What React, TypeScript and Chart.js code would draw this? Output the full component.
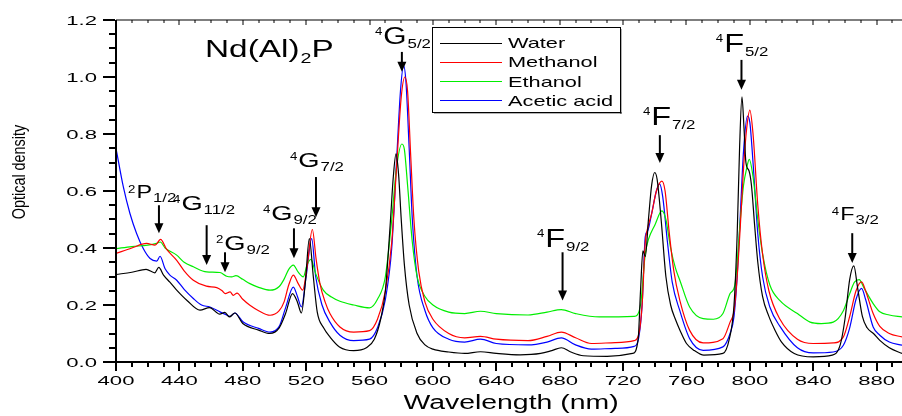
import { useEffect, useRef } from 'react';
import { Chart, registerables } from 'chart.js';

Chart.register(...registerables);

// ---------------- data ----------------
const seriesLabels = ['Water', 'Methanol', 'Ethanol', 'Acetic acid'];
const seriesColors = ['#000000', '#ff0000', '#00ee00', '#0000ff'];

const waterNm = [400, 410, 419, 424.5, 427, 430, 434, 438, 445, 453, 459, 465.5, 468.7, 471.5, 475, 480, 490, 497, 503, 507, 511.4, 514.5, 517, 519.5, 522, 524.5, 527, 531, 535, 541, 550, 558, 563, 567, 570, 573, 575, 576.7, 578.3, 580, 582, 585, 590, 595, 600, 610, 620, 630, 640, 655, 668, 675, 681, 687, 695, 710, 726, 729.5, 731, 732.5, 734, 736, 738, 740, 741.5, 744, 747, 750, 753, 756, 760, 765, 771, 783, 787, 790, 792, 793.5, 795, 796.3, 797.5, 799.5, 801, 803, 805, 808, 812, 816, 820, 828, 840, 852, 857, 860, 863, 865.6, 868, 871, 874, 878, 882, 888, 896];
const water = [0.307, 0.315, 0.325, 0.313, 0.332, 0.305, 0.28, 0.254, 0.215, 0.182, 0.191, 0.168, 0.174, 0.158, 0.172, 0.135, 0.112, 0.1, 0.12, 0.17, 0.24, 0.21, 0.172, 0.28, 0.433, 0.3, 0.175, 0.12, 0.088, 0.053, 0.04, 0.05, 0.08, 0.15, 0.25, 0.48, 0.65, 0.73, 0.66, 0.5, 0.34, 0.2, 0.1, 0.06, 0.045, 0.035, 0.03, 0.036, 0.03, 0.025, 0.03, 0.04, 0.05, 0.035, 0.022, 0.02, 0.03, 0.08, 0.25, 0.39, 0.37, 0.5, 0.62, 0.665, 0.64, 0.5, 0.3, 0.2, 0.15, 0.11, 0.065, 0.04, 0.024, 0.03, 0.08, 0.2, 0.45, 0.75, 0.93, 0.82, 0.7, 0.67, 0.62, 0.48, 0.35, 0.23, 0.16, 0.11, 0.07, 0.03, 0.018, 0.024, 0.06, 0.15, 0.29, 0.337, 0.26, 0.16, 0.12, 0.1, 0.076, 0.05, 0.03];

const methanolNm = [400, 410, 419.3, 424.6, 428.1, 432, 438.3, 443, 448.8, 457, 463.6, 467, 469, 472, 474, 476.4, 480, 484.5, 490, 497.2, 503, 506, 509, 511.9, 515, 517.8, 520.5, 523.9, 526.3, 528.7, 532, 535, 541.3, 550, 560, 565, 570, 574, 577, 580, 582.3, 584, 586, 588, 591, 595, 600, 610, 620, 630, 640, 660, 672, 681, 690, 700, 715, 727, 730, 732, 734, 735.5, 738, 741, 744.5, 746.5, 749, 752, 755.8, 762, 770.5, 783, 787.5, 790, 792, 794, 796, 798, 800, 802, 805, 808, 812, 819, 830, 840, 852.6, 859, 863, 867, 870.5, 873, 877.8, 882, 888, 896];
const methanol = [0.381, 0.4, 0.416, 0.41, 0.43, 0.395, 0.357, 0.32, 0.287, 0.266, 0.261, 0.25, 0.24, 0.246, 0.234, 0.242, 0.22, 0.199, 0.18, 0.164, 0.18, 0.21, 0.27, 0.305, 0.275, 0.252, 0.33, 0.465, 0.36, 0.275, 0.21, 0.17, 0.123, 0.105, 0.11, 0.15, 0.25, 0.42, 0.68, 0.93, 1.0, 0.95, 0.72, 0.5, 0.32, 0.21, 0.15, 0.1, 0.085, 0.09, 0.08, 0.075, 0.09, 0.105, 0.085, 0.065, 0.068, 0.075, 0.1, 0.2, 0.42, 0.47, 0.52, 0.6, 0.635, 0.6, 0.46, 0.32, 0.216, 0.111, 0.067, 0.082, 0.14, 0.18, 0.3, 0.48, 0.68, 0.82, 0.884, 0.8, 0.55, 0.38, 0.25, 0.15, 0.08, 0.065, 0.067, 0.088, 0.16, 0.25, 0.281, 0.25, 0.17, 0.125, 0.1, 0.088];

const ethanolNm = [400, 410, 420, 425.5, 428, 431, 438.3, 443, 448.8, 457.2, 465.6, 469.8, 473, 475.7, 480, 484.5, 490, 497.2, 503, 506, 509, 511.9, 515, 518.2, 520.5, 523, 526, 530.8, 536, 541.3, 550, 560, 565, 570, 574, 577, 580.4, 582, 584, 587, 590, 595, 600, 610, 620, 630, 640, 660, 672, 681, 690, 705, 727, 731, 734, 736, 740, 744.5, 747, 750, 753, 755.8, 762, 770.5, 777, 783, 787.5, 790.5, 792, 794, 796, 798, 799.6, 802, 805, 808, 812.6, 819, 830, 838, 845, 852.6, 859, 863, 866, 869, 872, 877.8, 882, 888, 896];
const ethanol = [0.398, 0.405, 0.41, 0.416, 0.421, 0.4, 0.375, 0.35, 0.334, 0.316, 0.314, 0.301, 0.299, 0.303, 0.29, 0.275, 0.262, 0.252, 0.265, 0.29, 0.325, 0.34, 0.315, 0.299, 0.34, 0.36, 0.31, 0.252, 0.228, 0.213, 0.2, 0.19, 0.22, 0.3, 0.5, 0.68, 0.765, 0.745, 0.62, 0.42, 0.3, 0.23, 0.2, 0.175, 0.17, 0.178, 0.17, 0.165, 0.175, 0.184, 0.17, 0.158, 0.16, 0.2, 0.38, 0.43, 0.48, 0.53, 0.5, 0.4, 0.33, 0.287, 0.193, 0.152, 0.15, 0.17, 0.24, 0.27, 0.35, 0.5, 0.62, 0.68, 0.711, 0.65, 0.5, 0.38, 0.27, 0.215, 0.17, 0.14, 0.135, 0.14, 0.18, 0.24, 0.28, 0.289, 0.26, 0.205, 0.176, 0.165, 0.158];

const aceticNm = [400, 404.6, 408.8, 413, 417.2, 421.5, 425.7, 427.8, 430.9, 434, 438.3, 443, 448.8, 454, 459.3, 465.6, 468.7, 472, 475, 480.3, 490, 497.2, 503, 507, 511.9, 514.5, 517, 520, 523.5, 526, 530, 535, 541.3, 550, 560, 565, 570, 574, 577, 579.5, 581.5, 583, 585, 587, 590, 595, 600, 610, 620, 630, 640, 660, 672, 681, 690, 700, 715, 727, 730, 732, 734, 735.5, 738, 741, 743, 745, 748, 751, 755.8, 762, 770.5, 783, 787.5, 790, 792, 794, 796, 798.5, 800, 802, 805, 808, 812.6, 819, 830, 840, 852.6, 859, 863, 867, 870.5, 873, 877.8, 882, 888, 896];
const acetic = [0.75, 0.615, 0.521, 0.451, 0.398, 0.363, 0.354, 0.371, 0.328, 0.305, 0.287, 0.255, 0.223, 0.2, 0.193, 0.176, 0.168, 0.16, 0.172, 0.14, 0.118, 0.105, 0.125, 0.19, 0.263, 0.23, 0.193, 0.3, 0.433, 0.3, 0.2, 0.14, 0.094, 0.075, 0.08, 0.12, 0.22, 0.4, 0.7, 0.95, 1.04, 0.98, 0.75, 0.5, 0.3, 0.18, 0.12, 0.08, 0.07, 0.08, 0.065, 0.06, 0.07, 0.085, 0.06, 0.045, 0.048, 0.055, 0.09, 0.2, 0.44, 0.46, 0.52, 0.6, 0.625, 0.58, 0.42, 0.28, 0.18, 0.082, 0.041, 0.053, 0.1, 0.16, 0.3, 0.52, 0.74, 0.863, 0.84, 0.7, 0.45, 0.3, 0.193, 0.125, 0.05, 0.032, 0.035, 0.059, 0.12, 0.22, 0.258, 0.22, 0.123, 0.094, 0.07, 0.059];

const xTickValues = [400, 440, 480, 520, 560, 600, 640, 680, 720, 760, 800, 840, 880];
const yTickValues = [0, 0.2, 0.4, 0.6, 0.8, 1.0, 1.2];

const titleText = 'Nd(Al)';
const titleSub = '2';
const titleEnd = 'P';
const xTitle = 'Wavelength (nm)';
const yTitle = 'Optical density';

// term annotations
const termSup = ['2', '4', '2', '4', '4', '4', '4', '4', '4', '4'];
const termLetter = ['P', 'G', 'G', 'G', 'G', 'G', 'F', 'F', 'F', 'F'];
const termSub = ['1/2', '11/2', '9/2', '9/2', '7/2', '5/2', '9/2', '7/2', '5/2', '3/2'];
const termTextNm = [407.6, 436, 463.1, 492.7, 509.8, 563.4, 665.6, 732.5, 778.5, 851.7];
const termTextVal = [0.575, 0.533, 0.392, 0.498, 0.684, 1.116, 0.403, 0.832, 1.088, 0.498];
const termArrowNm = [427.1, 457.2, 468.8, 512.3, 526.2, 580.4, 681.8, 743.2, 794.7, 864.6];
const termArrowTop = [0.55, 0.48, 0.385, 0.469, 0.649, 1.088, 0.385, 0.796, 1.06, 0.452];
const termArrowTip = [0.452, 0.34, 0.315, 0.364, 0.508, 1.018, 0.216, 0.698, 0.955, 0.347];
const termSize = [18, 21, 21, 21, 21, 23, 25, 25, 25, 18];

const FONT = '"Liberation Sans", Arial, Helvetica, sans-serif';

function drawText(ctx: CanvasRenderingContext2D, text: string, x: number, y: number, size: number, sx: number, align: string = 'left', baseline: CanvasTextBaseline = 'alphabetic'): number {
  ctx.save();
  ctx.font = `${size}px ${FONT}`;
  ctx.textBaseline = baseline;
  ctx.textAlign = 'left';
  const w = ctx.measureText(text).width * sx;
  const x0 = align === 'center' ? x - w / 2 : align === 'right' ? x - w : x;
  ctx.translate(x0, y);
  ctx.scale(sx, 1);
  ctx.fillStyle = '#000';
  ctx.fillText(text, 0, 0);
  ctx.restore();
  return w;
}

function drawArrow(ctx: CanvasRenderingContext2D, x: number, yTop: number, yTip: number) {
  ctx.save();
  ctx.strokeStyle = '#000';
  ctx.fillStyle = '#000';
  ctx.lineWidth = 2;
  ctx.beginPath();
  ctx.moveTo(x, yTop);
  ctx.lineTo(x, yTip - 8);
  ctx.stroke();
  ctx.beginPath();
  ctx.moveTo(x - 4.5, yTip - 10);
  ctx.lineTo(x + 4.5, yTip - 10);
  ctx.lineTo(x, yTip);
  ctx.closePath();
  ctx.fill();
  ctx.restore();
}

const decorPlugin = {
  id: 'decor',
  afterDraw(chart: any) {
    const ctx: CanvasRenderingContext2D = chart.ctx;
    const a = chart.chartArea;
    const xs = chart.scales.x;
    const ys = chart.scales.y;
    ctx.save();
    ctx.fillStyle = '#000';
    // axes lines
    ctx.fillRect(a.left - 1, a.top, 2, a.bottom - a.top + 1);
    ctx.fillRect(a.left - 1, a.bottom - 1, a.right - a.left + 1, 2);
    ctx.fillRect(a.left, a.top - 0.5, a.right - a.left, 1);
    // y ticks
    for (let i = 0; i <= 24; i++) {
      const v = i * 0.05;
      const py = Math.round(ys.getPixelForValue(v));
      const major = i % 4 === 0;
      const len = major ? 12 : 6;
      ctx.fillRect(a.left - 1 - len, py - 1, len, 2);
    }
    // x ticks
    for (let w = 400; w <= 896; w += 10) {
      const px = Math.round(xs.getPixelForValue(w));
      const major = (w - 400) % 40 === 0;
      ctx.fillRect(px - 1, a.bottom, 2, major ? 9 : 5);
      ctx.fillRect(px - 0.5, a.top, 1, major ? 5 : 3);
    }
    ctx.restore();

    // tick labels
    yTickValues.forEach((v) => {
      drawText(ctx, v.toFixed(1), 97, ys.getPixelForValue(v) + 5, 13, 1.7, 'right');
    });
    xTickValues.forEach((w) => {
      drawText(ctx, String(w), xs.getPixelForValue(w), a.bottom + 23, 13, 1.7, 'center');
    });

    // axis titles
    drawText(ctx, xTitle, 511, 409, 20, 1.42, 'center');
    ctx.save();
    ctx.translate(25, 172);
    ctx.rotate(-Math.PI / 2);
    drawText(ctx, yTitle, 0, 0, 18, 0.8, 'center');
    ctx.restore();

    // title
    let tx = 205;
    tx += drawText(ctx, titleText, tx, 57, 23, 1.45);
    tx += drawText(ctx, titleSub, tx + 1, 63, 14, 1.4) + 1;
    drawText(ctx, titleEnd, tx, 57, 23, 1.45);

    // legend
    const lx = 432, ly = 27, lw = 188, lh = 85;
    ctx.save();
    ctx.fillStyle = '#666';
    ctx.fillRect(lx + 2, ly + lh, lw, 1.5);
    ctx.fillRect(lx + lw, ly + 2, 1.5, lh);
    ctx.fillStyle = '#fff';
    ctx.fillRect(lx, ly, lw, lh);
    ctx.strokeStyle = '#000';
    ctx.lineWidth = 1;
    ctx.strokeRect(lx + 0.5, ly + 0.5, lw, lh);
    chart.data.datasets.forEach((ds: any, i: number) => {
      const ry = 42.5 + i * 19.3;
      ctx.strokeStyle = ds.borderColor;
      ctx.beginPath();
      ctx.moveTo(440, Math.round(ry) + 0.5);
      ctx.lineTo(502, Math.round(ry) + 0.5);
      ctx.stroke();
      drawText(ctx, ds.label, 508, ry + 5.5, 15, 1.45);
    });
    ctx.restore();

    // term annotations
    termLetter.forEach((letter, i) => {
      const size = termSize[i];
      const bx = xs.getPixelForValue(termTextNm[i]);
      const by = ys.getPixelForValue(termTextVal[i]);
      const cap = size * 0.716;
      let cx = bx;
      cx += drawText(ctx, termSup[i], cx, by - cap + 8, 11, 1.2) + 1;
      cx += drawText(ctx, letter, cx, by, size, 1.3) + 1;
      drawText(ctx, termSub[i], cx, by + 4, 12, 1.4);
      drawArrow(ctx, xs.getPixelForValue(termArrowNm[i]), ys.getPixelForValue(termArrowTop[i]), ys.getPixelForValue(termArrowTip[i]));
    });
  },
};

function pairs(xsArr: number[], vals: number[]) {
  return xsArr.map((x, i) => ({ x, y: vals[i] }));
}

export default function App() {
  const ref = useRef<HTMLCanvasElement | null>(null);
  useEffect(() => {
    document.body.style.margin = '0';
    const canvas = ref.current;
    if (!canvas) return;
    const xArrays = [waterNm, methanolNm, ethanolNm, aceticNm];
    const yArrays = [water, methanol, ethanol, acetic];
    const chart = new Chart(canvas, {
      type: 'line',
      data: {
        datasets: seriesLabels.map((label, i) => ({
          label,
          data: pairs(xArrays[i], yArrays[i]),
          borderColor: seriesColors[i],
          backgroundColor: seriesColors[i],
          borderWidth: 1.2,
          pointRadius: 0,
          fill: false,
          cubicInterpolationMode: 'monotone' as const,
        })),
      },
      options: {
        responsive: false,
        animation: false,
        devicePixelRatio: 1,
        layout: { padding: { left: 116, top: 20, right: 0, bottom: 54 } },
        plugins: { legend: { display: false }, tooltip: { enabled: false }, title: { display: false } },
        events: [],
        scales: {
          x: { type: 'linear', min: 400, max: 896, display: false },
          y: { type: 'linear', min: 0, max: 1.2, display: false },
        },
      },
      plugins: [decorPlugin],
    });
    return () => chart.destroy();
  }, []);
  return (
    <div style={{ width: 902, height: 416, background: '#fff' }}>
      <canvas ref={ref} width={902} height={416} style={{ display: 'block' }} />
    </div>
  );
}
